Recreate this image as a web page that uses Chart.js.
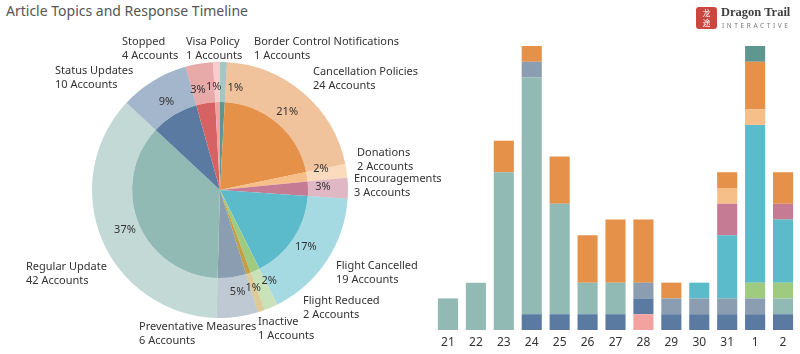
<!DOCTYPE html>
<html>
<head>
<meta charset="utf-8">
<script src="https://cdn.jsdelivr.net/npm/chart.js@4.4.0/dist/chart.umd.min.js"></script>
<style>
  body { margin: 0; background: #fff; font-family: 'Noto Sans', sans-serif; }
  #wrap { position: relative; width: 800px; height: 354px; overflow: hidden; }
  #title { position: absolute; left: 6px; top: 1px; font-size: 14px; color: #555; white-space: nowrap; }
  #pieBox { position: absolute; left: 0; top: 0; width: 445px; height: 354px; }
  #barBox { position: absolute; left: 420px; top: 0; width: 380px; height: 354px; }
  #logoMark { position: absolute; left: 696px; top: 7px; width: 21px; height: 22px; background: #cc4640; border-radius: 3px;
              color: #fff; font: 8px/10px 'Noto Sans CJK SC'; text-align: center; padding-top: 1px; box-sizing: border-box; }
  #logoName { position: absolute; left: 721px; top: 5px; font: bold 12.5px 'Liberation Serif', serif; color: #3d3d3d; white-space: nowrap; }
  #logoSub { position: absolute; left: 722px; top: 21px; font-size: 6.5px; letter-spacing: 2.6px; color: #777; white-space: nowrap; }
</style>
</head>
<body>
<div id="wrap">
  <div id="title">Article Topics and Response Timeline</div>
  <div id="pieBox"><canvas id="pieChart"></canvas></div>
  <div id="barBox"><canvas id="barChart"></canvas></div>
  <div id="logoMark">龙<br>途</div>
  <div id="logoName">Dragon Trail</div>
  <div id="logoSub">INTERACTIVE</div>
</div>
<script>
// Topics (alphabetical, clockwise from 12 o'clock)
const topics = ['Border Control Notifications', 'Cancellation Policies', 'Donations', 'Encouragements',
  'Flight Cancelled', 'Flight Reduced', 'Inactive', 'Preventative Measures', 'Regular Update',
  'Status Updates', 'Stopped', 'Visa Policy'];
const accounts = [1, 24, 2, 3, 19, 2, 1, 6, 42, 10, 4, 1];
const topicColors = ['#5f9690', '#e5914a', '#f6be88', '#c67b94', '#5bbbcb', '#9ecb80',
  '#c49e45', '#8b9db0', '#92bab4', '#5a7aa2', '#d66263', '#f2a39f'];

// Timeline (days)
const days = ['21', '22', '23', '24', '25', '26', '27', '28', '29', '30', '31', '1', '2'];
const borderControl  = [0, 0, 0, 0, 0, 0, 0, 0, 0, 0, 0, 1, 0];
const cancellation   = [0, 0, 2, 1, 3, 3, 4, 4, 1, 0, 1, 3, 2];
const donations      = [0, 0, 0, 0, 0, 0, 0, 0, 0, 0, 1, 1, 0];
const encouragements = [0, 0, 0, 0, 0, 0, 0, 0, 0, 0, 2, 0, 1];
const flightCancel   = [0, 0, 0, 0, 0, 0, 0, 0, 0, 1, 4, 10, 4];
const flightReduced  = [0, 0, 0, 0, 0, 0, 0, 0, 0, 0, 0, 1, 1];
const inactive       = [0, 0, 0, 0, 0, 0, 0, 0, 0, 0, 0, 0, 0];
const preventative   = [0, 0, 0, 1, 0, 0, 0, 1, 1, 1, 1, 1, 0];
const regularUpdate  = [2, 3, 10, 15, 7, 2, 2, 0, 0, 0, 0, 0, 1];
const statusUpdates  = [0, 0, 0, 1, 1, 1, 1, 1, 1, 1, 1, 1, 1];
const stopped        = [0, 0, 0, 0, 0, 0, 0, 0, 0, 0, 0, 0, 0];
const visaPolicy     = [0, 0, 0, 0, 0, 0, 0, 1, 0, 0, 0, 0, 0];
const daySeries = [borderControl, cancellation, donations, encouragements, flightCancel, flightReduced,
  inactive, preventative, regularUpdate, statusUpdates, stopped, visaPolicy];

// label layout: name block offset from pie centre, and small angle nudges for the % labels
const nameOffsets = [[34, -148], [93, -118], [137, -37], [134, -11], [116, 76], [83, 111],
  [38, 132], [-81, 137], [-194, 77], [-165, -119], [-98, -148], [-34, -148]];
const pctNudge = [7, 0, -3, -1, 0, -5, 0, -2, 0, 0, -3, -2];

const total = accounts.reduce((a, b) => a + b, 0);

function fade(hex, a) {
  const n = parseInt(hex.slice(1), 16);
  return `rgba(${n >> 16}, ${(n >> 8) & 255}, ${n & 255}, ${a})`;
}

const pieLabels = {
  id: 'pieLabels',
  afterDatasetsDraw(chart) {
    const ctx = chart.ctx;
    const meta = chart.getDatasetMeta(0);
    ctx.save();
    ctx.font = '11px "Noto Sans"';
    ctx.fillStyle = '#333';
    ctx.textBaseline = 'middle';
    meta.data.forEach((arc, i) => {
      const p = arc.getProps(['x', 'y', 'startAngle', 'endAngle', 'innerRadius', 'outerRadius'], true);
      const a = (p.startAngle + p.endAngle) / 2 + pctNudge[i] * Math.PI / 180;
      const r = (p.innerRadius + p.outerRadius) / 2 - 5;
      ctx.textAlign = 'center';
      ctx.fillText(Math.round(accounts[i] / total * 100) + '%', p.x + r * Math.cos(a), p.y + r * Math.sin(a));
      const [dx, dy] = nameOffsets[i];
      ctx.textAlign = 'left';
      ctx.fillText(topics[i], p.x + dx, p.y + dy);
      ctx.fillText(accounts[i] + ' Accounts', p.x + dx, p.y + dy + 14);
    });
    ctx.restore();
  }
};

Chart.defaults.font.family = "'Noto Sans', sans-serif";
Chart.defaults.animation = false;

new Chart(document.getElementById('pieChart'), {
  type: 'doughnut',
  data: {
    labels: topics,
    datasets: [
      { data: accounts, backgroundColor: topicColors.map(c => fade(c, 0.55)), borderWidth: 0, weight: 40 },
      { data: accounts, backgroundColor: topicColors, borderWidth: 0, weight: 88 }
    ]
  },
  options: {
    responsive: true,
    maintainAspectRatio: false,
    cutout: 0,
    layout: { padding: { left: 92, top: 62, right: 97, bottom: 36 } },
    plugins: { legend: { display: false }, tooltip: { enabled: false } }
  },
  plugins: [pieLabels]
});

// stack bottom-to-top in reverse alphabetical order
const barDatasets = topics.map((t, i) => ({
  label: t,
  data: daySeries[i],
  backgroundColor: topicColors[i],
  borderWidth: 0,
  barPercentage: 0.72,
  categoryPercentage: 1
})).reverse();

new Chart(document.getElementById('barChart'), {
  type: 'bar',
  data: { labels: days, datasets: barDatasets },
  options: {
    responsive: true,
    maintainAspectRatio: false,
    layout: { padding: { left: 14, right: 3, top: 46, bottom: 0 } },
    scales: {
      x: {
        stacked: true,
        grid: { display: false },
        border: { display: false },
        ticks: { color: '#333', font: { size: 12 }, padding: -3, maxRotation: 0 },
        afterFit: s => { s.height = 24; }
      },
      y: { stacked: true, display: false, min: 0, max: 18 }
    },
    plugins: { legend: { display: false }, tooltip: { enabled: false } }
  }
});
</script>
</body>
</html>
